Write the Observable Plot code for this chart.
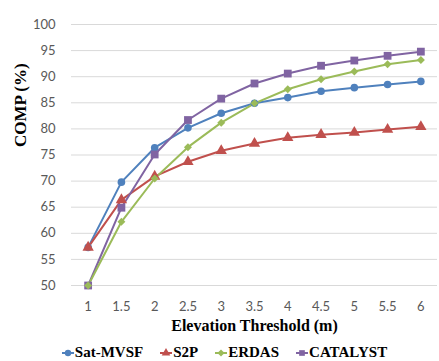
<!DOCTYPE html>
<html><head><meta charset="utf-8">
<script src="https://cdn.jsdelivr.net/npm/d3@7"></script>
<script src="https://cdn.jsdelivr.net/npm/@observablehq/plot@0.6"></script>
<style>
body{margin:0;background:#fff;width:439px;height:361px;overflow:hidden}
#legend{display:flex;justify-content:center;align-items:center;gap:17px;height:23px;padding-top:3px;padding-left:10px;
  font-family:"Liberation Serif","Times New Roman",serif;font-weight:bold;font-size:15px;color:#000}
#legend .item{display:flex;align-items:center}
#legend svg{margin-right:1px}
</style></head><body><div id="chart"></div><div id="legend"></div>
<script>
const thresholds = [1, 1.5, 2, 2.5, 3, 3.5, 4, 4.5, 5, 5.5, 6];
const satMVSF  = [57.3, 69.8, 76.4, 80.2, 83.0, 84.9, 86.0, 87.2, 87.9, 88.5, 89.1];
const s2p      = [57.3, 66.4, 70.9, 73.7, 75.8, 77.2, 78.3, 78.9, 79.3, 79.9, 80.4];
const erdas    = [50.0, 62.2, 70.5, 76.5, 81.2, 84.9, 87.6, 89.5, 91.0, 92.4, 93.2];
const catalyst = [50.0, 64.9, 75.1, 81.7, 85.8, 88.7, 90.6, 92.1, 93.1, 94.0, 94.8];
const seriesNames = ["Sat-MVSF", "S2P", "ERDAS", "CATALYST"];
const seriesValues = [satMVSF, s2p, erdas, catalyst];
const seriesColors = ["#4F81BD", "#C0504D", "#9BBB59", "#8064A2"];
const seriesSymbols = ["circle", "triangle", "diamond2", "square"];
const symbolR = [3.8, 4.2, 3.6, 4.4];
const yTicks = [50, 55, 60, 65, 70, 75, 80, 85, 90, 95, 100];
const drawOrder = [0, 1, 3, 2];

const rows = seriesNames.flatMap((s, i) => thresholds.map((t, j) => ({s, t, v: seriesValues[i][j]})));

const chart = Plot.plot({
  width: 439, height: 338,
  marginLeft: 71, marginRight: 2, marginTop: 24, marginBottom: 53,
  style: {fontFamily: "Lato", fontSize: "13px", color: "#595959", background: "#fff"},
  x: {domain: [0.75, 6.25], ticks: thresholds, tickSize: 0, tickPadding: 16, label: null, tickFormat: d => String(d)},
  y: {domain: [50, 100], ticks: yTicks, tickSize: 0, tickPadding: 16, label: null},
  color: {domain: seriesNames, range: seriesColors},
  marks: [
    Plot.gridY(yTicks, {stroke: "#d9d9d9", strokeOpacity: 1, strokeWidth: 1}),
    ...drawOrder.map(i => Plot.line(rows.filter(d => d.s === seriesNames[i]), {x: "t", y: "v", stroke: "s", strokeWidth: 2})),
    ...drawOrder.map(i => Plot.dot(rows.filter(d => d.s === seriesNames[i]), {x: "t", y: "v", fill: "s", stroke: null, symbol: () => seriesSymbols[i], r: symbolR[i]})),
    Plot.text(["COMP (%)"], {frameAnchor: "left", rotate: -90, dx: -51, dy: -8, fontFamily: "Liberation Serif", fontWeight: "bold", fontSize: 17, fill: "#000"}),
    Plot.text(["Elevation Threshold (m)"], {frameAnchor: "bottom", dy: 45, fontFamily: "Liberation Serif", fontWeight: "bold", fontSize: 16, fill: "#000"})
  ]
});
document.getElementById("chart").append(chart);

const legend = document.getElementById("legend");
seriesNames.forEach((name, i) => {
  const item = document.createElement("div");
  item.className = "item";
  const w = 12, h = 12;
  const sym = d3.symbol().type({circle: d3.symbolCircle, triangle: d3.symbolTriangle, diamond2: d3.symbolDiamond2, square: d3.symbolSquare}[seriesSymbols[i]]).size(Math.PI * 3.2 * 3.2)();
  item.innerHTML = `<svg width="${w}" height="${h}"><line x1="0" x2="${w}" y1="${h/2}" y2="${h/2}" stroke="${seriesColors[i]}" stroke-width="2"/><path d="${sym}" transform="translate(${w/2},${h/2})" fill="${seriesColors[i]}"/></svg><span>${name}</span>`;
  legend.append(item);
});
</script>
</body></html>
